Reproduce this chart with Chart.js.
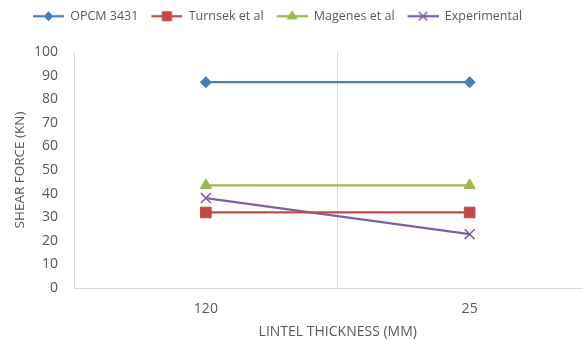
<!DOCTYPE html>
<html>
<head>
<meta charset="utf-8">
<script src="https://cdn.jsdelivr.net/npm/chart.js@4"></script>
<style>
  html, body { margin: 0; padding: 0; background: #fff; overflow: hidden; }
  /* the reference is a crop of a wider chart: draw it wider and let the window cut it */
  #wrap { width: 610px; height: 340px; position: relative; }
</style>
</head>
<body>
<div id="wrap"><canvas id="shearChart"></canvas></div>
<script>
// categories (lintel thickness) and series values (shear force, kN)
var thickness = ['120', '25'];
var opcm = [87.2, 87.2];
var turnsek = [32, 32];
var magenes = [43.5, 43.5];
var experimental = [38.1, 22.8];
var yTicks = [0, 10, 20, 30, 40, 50, 60, 70, 80, 90, 100];

var gray = '#595959';
var gridGray = '#d9d9d9';
var topPad = 19.5;

function points(values) {
    return values.map(function(v, i) { return { x: i, y: v }; });
}

// legend swatch: short line with marker in the middle, small blank lead-in
function swatch(color, style, radius) {
    var c = document.createElement('canvas');
    c.width = 34; c.height = 14;
    var g = c.getContext('2d');
    g.strokeStyle = color;
    g.fillStyle = color;
    g.lineWidth = 2.25;
    g.beginPath();
    g.moveTo(3, 7);
    g.lineTo(34, 7);
    g.stroke();
    g.lineWidth = style === 'crossRot' ? 1.5 : 1;
    Chart.helpers.drawPoint(g, { pointStyle: style, radius: radius, borderWidth: g.lineWidth, rotation: 0 }, 18.5, 7);
    return c;
}

function series(label, values, color, style, radius) {
    return {
        label: label,
        data: points(values),
        borderColor: color,
        backgroundColor: color,
        borderWidth: 2.25,
        pointStyle: style,
        pointRadius: radius,
        pointHoverRadius: radius,
        pointBorderWidth: style === 'crossRot' ? 1.5 : 1,
        legendSwatch: swatch(color, style, radius - 1),
        fill: false,
        tension: 0
    };
}

// move the legend to where it sits in the reference
var shiftLegend = {
    id: 'shiftLegend',
    afterLayout: function(chart) {
        chart.legend.left -= 32;
        chart.legend.right -= 32;
        chart.legend.top -= topPad;
        chart.legend.bottom -= topPad;
    }
};

var ctx = document.getElementById('shearChart').getContext('2d');
var myChart = new Chart(ctx, {
    type: 'line',
    data: {
        datasets: [
            series('OPCM 3431', opcm, '#4a7ebb', 'rectRot', 5.5),
            series('Turnsek et al', turnsek, '#be4b48', 'rect', 7.5),
            series('Magenes et al', magenes, '#98b954', 'triangle', 6.5),
            series('Experimental', experimental, '#7d60a0', 'crossRot', 7)
        ]
    },
    options: {
        responsive: true,
        maintainAspectRatio: false,
        animation: false,
        layout: { padding: { left: 12, right: 6, top: topPad, bottom: 0 } },
        plugins: {
            title: { display: false },
            tooltip: { enabled: false },
            legend: {
                display: true,
                position: 'top',
                labels: {
                    usePointStyle: true,
                    pointStyleWidth: 34,
                    padding: 10,
                    color: gray,
                    font: { family: 'Open Sans', size: 12.5 },
                    generateLabels: function(chart) {
                        return chart.data.datasets.map(function(ds, i) {
                            return {
                                text: ds.label,
                                pointStyle: ds.legendSwatch,
                                fillStyle: ds.borderColor,
                                strokeStyle: ds.borderColor,
                                lineWidth: 0,
                                hidden: false,
                                datasetIndex: i,
                                fontColor: gray
                            };
                        });
                    }
                }
            }
        },
        scales: {
            x: {
                type: 'linear',
                min: -0.5,
                max: 1.5,
                afterBuildTicks: function(scale) {
                    scale.ticks = [{ value: 0 }, { value: 0.5 }, { value: 1 }];
                },
                afterFit: function(scale) {
                    scale.height = 52;
                },
                ticks: {
                    color: gray,
                    font: { family: 'Open Sans', size: 14 },
                    padding: 13,
                    maxRotation: 0,
                    autoSkip: false,
                    callback: function(v) {
                        return Number.isInteger(v) ? thickness[v] : '';
                    }
                },
                grid: {
                    drawTicks: false,
                    color: function(c) {
                        return c.tick && c.tick.value === 0.5 ? gridGray : 'rgba(0,0,0,0)';
                    },
                    lineWidth: 1
                },
                border: { display: true, color: gridGray, width: 1 },
                title: {
                    display: true,
                    text: 'LINTEL THICKNESS (MM)',
                    color: gray,
                    font: { family: 'Open Sans', size: 14 },
                    padding: { top: 0, bottom: 0 }
                }
            },
            y: {
                type: 'linear',
                min: 0,
                max: 100,
                afterBuildTicks: function(scale) {
                    scale.ticks = yTicks.map(function(v) { return { value: v }; });
                },
                afterFit: function(scale) {
                    scale.width = 62;
                },
                ticks: {
                    color: gray,
                    font: { family: 'Open Sans', size: 14 },
                    padding: 16
                },
                grid: { display: false, drawTicks: false },
                border: { display: true, color: gridGray, width: 1 },
                title: {
                    display: true,
                    text: 'SHEAR FORCE (KN)',
                    color: gray,
                    font: { family: 'Open Sans', size: 13.5 },
                    padding: { top: 0, bottom: 6 }
                }
            }
        }
    },
    plugins: [shiftLegend]
});
</script>
</body>
</html>
